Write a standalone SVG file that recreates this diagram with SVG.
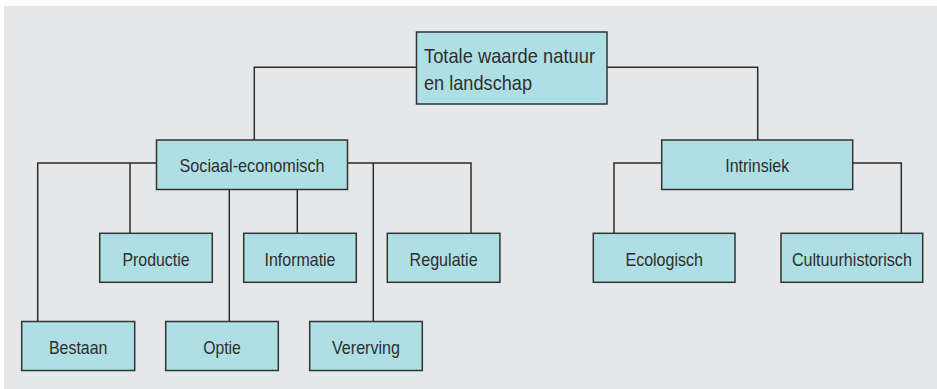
<svg xmlns="http://www.w3.org/2000/svg" width="937" height="389" viewBox="0 0 937 389">
<style>
.bg{fill:#e6e7e9}
.box{fill:#aedfe4;stroke:#333;stroke-width:1.5}
.lbl{font-family:"Liberation Sans",Arial,sans-serif;font-size:19px;fill:#2e2e2e;text-anchor:middle}
.top{font-family:"Liberation Sans",Arial,sans-serif;font-size:21px;fill:#2e2e2e}
.con{fill:none;stroke:#2b2b2b;stroke-width:1.5}
</style>
<rect class="bg" x="4" y="6" width="933" height="383"/>
<g id="connectors">
<path class="con" d="M254.3,140 V67.3 H416.5"/>
<path class="con" d="M607,67.3 H757.7 V140"/>
<path class="con" d="M156.5,163 H37.7 V321.5"/>
<path class="con" d="M130,163 V233.3"/>
<path class="con" d="M347.5,163 H471 V233.3"/>
<path class="con" d="M373.3,163 V321.5"/>
<path class="con" d="M229.3,189.5 V321.5"/>
<path class="con" d="M297.3,189.5 V233.3"/>
<path class="con" d="M661.7,163 H614 V233.3"/>
<path class="con" d="M852.7,163 H901.3 V233.3"/>
</g>
<g id="totaal">
<rect class="box" x="416.5" y="32" width="190.5" height="72"/>
<text class="top" x="424" y="63" textLength="171" lengthAdjust="spacingAndGlyphs">Totale waarde natuur</text>
<text class="top" x="424" y="90" textLength="108" lengthAdjust="spacingAndGlyphs">en landschap</text>
</g>
<g id="sociaal">
<rect class="box" x="156.5" y="140" width="191" height="49.5"/>
<text class="lbl" x="252" y="172.3" textLength="145" lengthAdjust="spacingAndGlyphs">Sociaal-economisch</text>
</g>
<g id="intrinsiek">
<rect class="box" x="661.7" y="140" width="191" height="49.5"/>
<text class="lbl" x="757.2" y="172.3" textLength="64" lengthAdjust="spacingAndGlyphs">Intrinsiek</text>
</g>
<g id="productie">
<rect class="box" x="99.7" y="233.3" width="112.6" height="49"/>
<text class="lbl" x="156" y="265.7" textLength="67" lengthAdjust="spacingAndGlyphs">Productie</text>
</g>
<g id="informatie">
<rect class="box" x="243.7" y="233.3" width="112.6" height="49"/>
<text class="lbl" x="300" y="265.7" textLength="71" lengthAdjust="spacingAndGlyphs">Informatie</text>
</g>
<g id="regulatie">
<rect class="box" x="387.3" y="233.3" width="112.6" height="49"/>
<text class="lbl" x="443.6" y="265.7" textLength="68" lengthAdjust="spacingAndGlyphs">Regulatie</text>
</g>
<g id="ecologisch">
<rect class="box" x="593.3" y="233.3" width="141.7" height="49"/>
<text class="lbl" x="664.2" y="265.7" textLength="77.5" lengthAdjust="spacingAndGlyphs">Ecologisch</text>
</g>
<g id="cultuurhistorisch">
<rect class="box" x="781" y="233.3" width="141.7" height="49"/>
<text class="lbl" x="851.9" y="265.7" textLength="120" lengthAdjust="spacingAndGlyphs">Cultuurhistorisch</text>
</g>
<g id="bestaan">
<rect class="box" x="21.7" y="321.5" width="113" height="49"/>
<text class="lbl" x="78.2" y="354" textLength="58.5" lengthAdjust="spacingAndGlyphs">Bestaan</text>
</g>
<g id="optie">
<rect class="box" x="165.7" y="321.5" width="112.6" height="49"/>
<text class="lbl" x="222" y="354" textLength="37.7" lengthAdjust="spacingAndGlyphs">Optie</text>
</g>
<g id="vererving">
<rect class="box" x="309.7" y="321.5" width="112.6" height="49"/>
<text class="lbl" x="366" y="354" textLength="68" lengthAdjust="spacingAndGlyphs">Vererving</text>
</g>
</svg>
